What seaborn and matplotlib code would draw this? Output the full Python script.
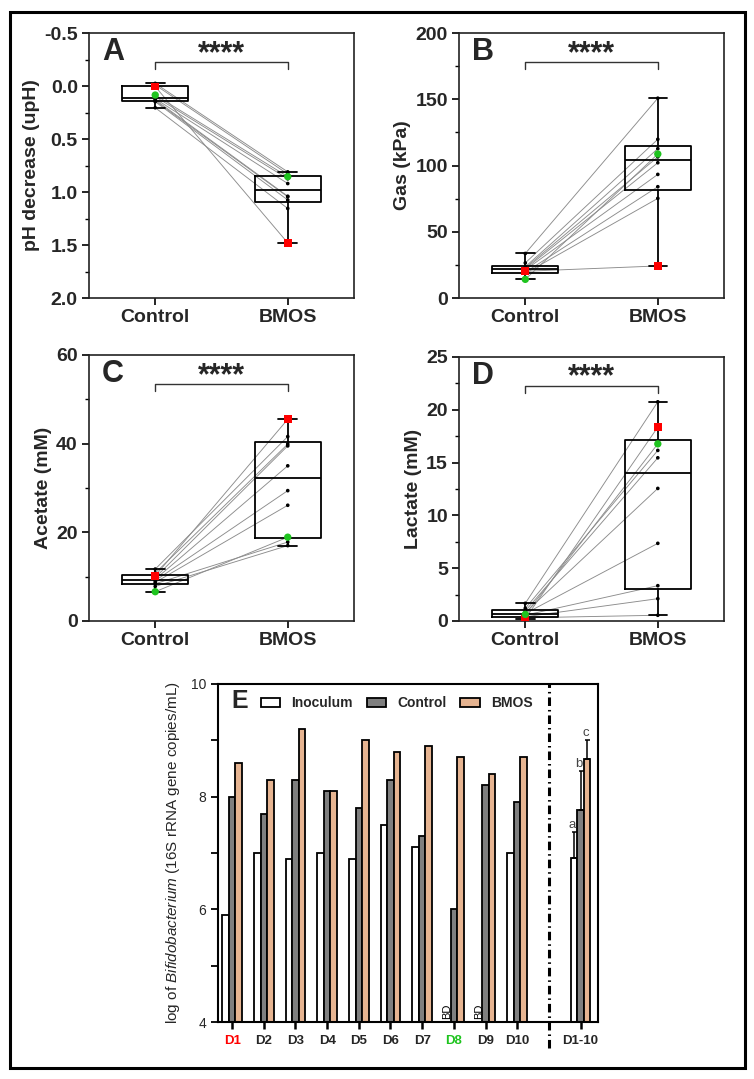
import numpy as np
import pandas as pd
import matplotlib.pyplot as plt
from matplotlib.patches import Rectangle
from matplotlib.ticker import MultipleLocator
import seaborn as sns

# ---------------------------------------------------------------------------
# Data, one value per donor (D1 .. D10)
# ---------------------------------------------------------------------------
donors = ["D1", "D2", "D3", "D4", "D5", "D6", "D7", "D8", "D9", "D10"]

ph_control = [0.005, -0.025, -0.01, 0.10, 0.12, 0.13, 0.14, 0.085, 0.148, 0.205]
ph_bmos = [1.48, 0.81, 0.83, 0.875, 0.92, 1.04, 1.045, 0.855, 1.075, 1.155]

gas_control = [20.2, 18.6, 19.4, 21.2, 22.0, 22.8, 23.6, 14.1, 26.5, 33.6]
gas_bmos = [24.2, 75.2, 84.0, 93.3, 102.1, 106.5, 112.7, 108.7, 119.8, 150.8]

acetate_control = [10.2, 7.8, 8.4, 8.7, 9.1, 9.4, 9.8, 6.6, 10.8, 11.7]
acetate_bmos = [45.5, 17.0, 17.8, 26.1, 29.4, 35.0, 39.5, 18.9, 39.9, 41.6]

lactate_control = [0.22, 0.30, 0.40, 0.55, 0.70, 0.80, 0.95, 0.62, 1.20, 1.67]
lactate_bmos = [18.35, 0.54, 2.11, 3.34, 7.35, 12.55, 15.45, 16.77, 16.15, 20.75]

# log Bifidobacterium (16S rRNA gene copies/mL); NaN = below detection (BD)
bifido_inoculum = [5.9, 7.0, 6.9, 7.0, 6.9, 7.5, 7.1, np.nan, np.nan, 7.0]
bifido_control = [8.0, 7.7, 8.3, 8.1, 7.8, 8.3, 7.3, 6.0, 8.2, 7.9]
bifido_bmos = [8.6, 8.3, 9.2, 8.1, 9.0, 8.8, 8.9, 8.7, 8.4, 8.7]

groups_e = ["Inoculum", "Control", "BMOS"]
letters_e = ["a", "b", "c"]
pooled_label = "D1-10"
gap_label = " "

# ---------------------------------------------------------------------------
# Style
# ---------------------------------------------------------------------------
sns.set_theme(style="ticks")
plt.rcParams["font.family"] = ["Liberation Sans", "DejaVu Sans"]
plt.rcParams["mathtext.fontset"] = "custom"
plt.rcParams["mathtext.it"] = "Liberation Sans:italic"
plt.rcParams["mathtext.rm"] = "Liberation Sans"
plt.rcParams["axes.unicode_minus"] = False

RED = "#FF0000"
GREEN = "#1FC41F"
LINE_GREY = "#8C8C8C"
E_PALETTE = {"Inoculum": "white", "Control": "#7F7F7F", "BMOS": "#F4B183"}


def paired_panel(ax, ctrl, bmos, letter, ylabel, ylim, major, minor):
    df = pd.DataFrame({
        "donor": donors * 2,
        "pos": [0] * len(donors) + [1] * len(donors),
        "value": list(ctrl) + list(bmos),
    })
    df["kind"] = np.where(df["donor"].isin(["D1", "D8"]), df["donor"], "other")
    df["layer"] = (df["kind"] != "other").astype(int)
    df = df.sort_values("layer", kind="stable")

    # paired lines, one per donor
    sns.lineplot(data=df, x="pos", y="value", units="donor", estimator=None,
                 color=LINE_GREY, linewidth=0.65, legend=False, ax=ax, zorder=1)

    # box: quartiles (n+1)p, whiskers min..max
    stats = []
    for vals in (ctrl, bmos):
        q1, med, q3 = np.percentile(vals, [25, 50, 75], method="weibull")
        stats.append({"med": med, "q1": q1, "q3": q3,
                      "whislo": min(vals), "whishi": max(vals), "fliers": []})
    kw = dict(color="black", linewidth=1.3)
    ax.bxp(stats, positions=[0, 1], widths=0.5, capwidths=0.14, showfliers=False,
           boxprops=kw, medianprops=kw, whiskerprops=kw, capprops=kw)

    sns.scatterplot(data=df, x="pos", y="value", hue="kind", style="kind", size="kind",
                    palette={"other": "black", "D1": RED, "D8": GREEN},
                    markers={"other": "o", "D1": "s", "D8": "o"},
                    sizes={"other": 7, "D1": 30, "D8": 28},
                    edgecolor="none", linewidth=0, legend=False, ax=ax, zorder=4)

    ax.set_xlim(-0.5, 1.5)
    ax.set_ylim(*ylim)
    ax.set_xticks([0, 1], ["Control", "BMOS"])
    ax.yaxis.set_major_locator(MultipleLocator(major))
    ax.yaxis.set_minor_locator(MultipleLocator(minor))
    ax.set_xlabel("")
    ax.set_ylabel(ylabel, fontsize=14, fontweight="bold", labelpad=3)
    ax.tick_params(axis="both", which="major", labelsize=14, width=1.2, length=5,
                   color="black", pad=3)
    ax.tick_params(axis="y", which="minor", length=3, width=1.0, color="black")
    for lab in ax.get_xticklabels() + ax.get_yticklabels():
        lab.set_fontweight("bold")
    for sp in ax.spines.values():
        sp.set_visible(True)
        sp.set_linewidth(1.2)
        sp.set_color("#222222")

    # significance bracket
    tr = ax.get_xaxis_transform()
    ax.plot([0, 0, 1, 1], [0.865, 0.89, 0.89, 0.865], transform=tr,
            color="#333333", linewidth=1.0, clip_on=False)
    ax.text(0.5, 0.865, "****", transform=tr, ha="center", va="bottom",
            fontsize=22, fontweight="bold")
    ax.text(0.05, 0.985, letter, transform=ax.transAxes, ha="left", va="top",
            fontsize=22, fontweight="bold")


fig = plt.figure(figsize=(7.54, 10.79), dpi=100)

ax_a = fig.add_axes([0.118, 0.7238, 0.3515, 0.2456])
ax_b = fig.add_axes([0.6088, 0.7238, 0.3515, 0.2456])
ax_c = fig.add_axes([0.118, 0.4245, 0.3515, 0.2465])
ax_d = fig.add_axes([0.6088, 0.4245, 0.3515, 0.2447])
ax_e = fig.add_axes([0.289, 0.0528, 0.504, 0.3133])

paired_panel(ax_a, ph_control, ph_bmos, "A", "pH decrease (upH)", (2.0, -0.5), 0.5, 0.25)
paired_panel(ax_b, gas_control, gas_bmos, "B", "Gas (kPa)", (0, 200), 50, 25)
paired_panel(ax_c, acetate_control, acetate_bmos, "C", "Acetate (mM)", (0, 60), 20, 10)
paired_panel(ax_d, lactate_control, lactate_bmos, "D", "Lactate (mM)", (0, 25), 5, 2.5)

# ---------------------------------------------------------------------------
# Panel E: grouped bars per donor + pooled mean
# ---------------------------------------------------------------------------
series_e = dict(zip(groups_e, [bifido_inoculum, bifido_control, bifido_bmos]))
rows = []
for g, vals in series_e.items():
    for d, v in zip(donors, vals):
        if not np.isnan(v):
            rows.append((d, g, v))
            rows.append((pooled_label, g, v))
df_e = pd.DataFrame(rows, columns=["donor", "group", "value"])
order_e = donors + [gap_label, pooled_label]

sns.barplot(data=df_e, x="donor", y="value", hue="group", order=order_e,
            hue_order=groups_e, palette=E_PALETTE, errorbar=None, width=0.62,
            edgecolor="black", linewidth=1.3, ax=ax_e)

# upward SD error bars + letters on the pooled bars
for cont, g, let in zip(ax_e.containers, groups_e, letters_e):
    vals = np.array(series_e[g], dtype=float)
    mean, sd = np.nanmean(vals), np.nanstd(vals, ddof=1)
    bar = max(cont.patches, key=lambda p: p.get_x())
    xc = bar.get_x() + bar.get_width() / 2
    ax_e.errorbar([xc], [mean], yerr=[[0], [sd]], fmt="none", ecolor="black",
                  elinewidth=1.1, capsize=1.8, capthick=1.1, zorder=5)
    ax_e.annotate(let, (xc, mean + sd), xytext=(-1, 1), textcoords="offset points",
                  ha="center", va="bottom", fontsize=9.5, color="#444444", zorder=6)

# BD labels where inoculum is below detection
inoc_bar = min(ax_e.containers[0].patches, key=lambda p: p.get_x())
inoc_off = inoc_bar.get_x() + inoc_bar.get_width() / 2
for i, v in enumerate(bifido_inoculum):
    if np.isnan(v):
        ax_e.text(i + inoc_off, 4.05, "BD", rotation=90, ha="center", va="bottom",
                  fontsize=8, color="black")

# dash-dot separator before pooled group
sep_x = order_e.index(gap_label)
ax_e.plot([sep_x, sep_x], [-0.077, 1.0], transform=ax_e.get_xaxis_transform(),
          color="black", linewidth=2.2, linestyle=(0, (2.8, 1.3, 0.5, 1.3)),
          clip_on=False, zorder=3)

ax_e.set_xlim(-0.45, len(order_e) - 0.45)
ax_e.set_ylim(4, 10)
ax_e.yaxis.set_major_locator(MultipleLocator(2))
ax_e.yaxis.set_minor_locator(MultipleLocator(1))
ax_e.set_xticks(range(len(order_e)), donors + ["", pooled_label])
ax_e.set_xlabel("")
ax_e.set_ylabel(r"log of $\it{Bifidobacterium}$ (16S rRNA gene copies/mL)",
                fontsize=11, labelpad=6)
ax_e.tick_params(axis="x", labelsize=9.5, width=1.8, length=5, color="black", pad=4)
ax_e.tick_params(axis="y", which="both", labelsize=10, width=1.3, length=5,
                 color="black")
for lab in ax_e.get_xticklabels():
    lab.set_fontweight("bold")
    if lab.get_text() == "D1":
        lab.set_color(RED)
    elif lab.get_text() == "D8":
        lab.set_color(GREEN)
for sp in ax_e.spines.values():
    sp.set_visible(True)
    sp.set_linewidth(1.5)
    sp.set_color("black")

handles, labels = ax_e.get_legend_handles_labels()
ax_e.legend(handles, labels, ncol=3, loc="upper center", bbox_to_anchor=(0.47, 1.0),
            frameon=False, prop=dict(weight="bold", size=10), handlelength=1.4,
            handleheight=0.6, columnspacing=1.0, handletextpad=0.8)
ax_e.text(0.035, 0.985, "E", transform=ax_e.transAxes, ha="left", va="top",
          fontsize=18, fontweight="bold")

# outer frame round the whole figure
fig.patches.append(Rectangle((0.0135, 0.0105), 0.974, 0.978, transform=fig.transFigure,
                             fill=False, edgecolor="black", linewidth=2.2))

fig.savefig("out.png", dpi=100, facecolor="white")
